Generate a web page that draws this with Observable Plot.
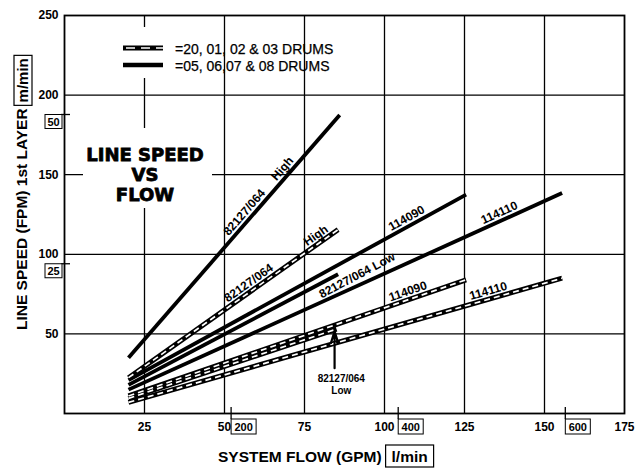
<!DOCTYPE html>
<html>
<head>
<meta charset="utf-8">
<script src="https://cdn.jsdelivr.net/npm/d3@7"></script>
<script src="https://cdn.jsdelivr.net/npm/@observablehq/plot@0.6"></script>
<style>
  html, body { margin: 0; padding: 0; background: #fff; }
  #chart svg { display: block; }
</style>
</head>
<body>
<div id="chart"></div>
<script>
// ---------- DATA ----------
// one straight line per motor / drum group, flow in GPM, speed in FPM
const lineNames  = ["82127/064 High", "82127/064 High", "114090", "82127/064 Low", "114110", "114090", "82127/064 Low", "114110"];
const drumGroup  = ["05-08", "20-03", "05-08", "05-08", "05-08", "20-03", "20-03", "20-03"];
const flowStart  = [20, 20, 20, 20, 20, 20, 20, 20];
const speedStart = [35, 22.5, 21, 18, 15, 11, 9.5, 7];
const flowEnd    = [86, 85.5, 125.5, 85.5, 155.5, 125.5, 85, 155.5];
const speedEnd   = [187.5, 115.5, 137.5, 87.5, 138.5, 84, 53, 85];

// axis ticks
const xTicks = [25, 50, 75, 100, 125, 150, 175];          // GPM
const yTicks = [50, 100, 150, 200, 250];                   // FPM
const lpmTicks = [200, 400, 600];                          // l/min
const mpmTicks = [25, 50];                                 // m/min
const LPM_PER_GPM = 3.83;   // conversion as drawn on the chart
const FPM_PER_MPM = 3.75;   // conversion as drawn on the chart

// texts
const legendLabels = ["=20, 01, 02 & 03 DRUMS", "=05, 06,07 & 08 DRUMS"];
const titleLines = ["LINE SPEED", "VS", "FLOW"];
const xTitle = "SYSTEM FLOW (GPM)", xUnit = "l/min";
const yTitle = "LINE SPEED (FPM) 1st LAYER", yUnit = "m/min";

// labels written along the lines: which line, where (GPM), text
const labelSeries = [0, 0, 1, 1, 3, 2, 4, 5, 7];
const labelFlow   = [58.1, 70, 59, 80, 90, 108.1, 136.9, 108.1, 133.1];
const labelText   = ["82127/064", "High", "82127/064", "High", "82127/064 Low", "114090", "114110", "114090", "114110"];
const labelSide   = [8, 8, 8, 8, -10, 8, 8, 8, 8];

// arrow annotation pointing at the end of the dashed 82127/064 Low line
const arrowSeries = 6;
const arrowFlow = 84.4;
const arrowFromSpeed = 28.5;
const arrowText = ["82127/064", "Low"];
const arrowTextFlow = 86.5;
const arrowTextSpeed = [21.8, 14.5];

// ---------- LAYOUT ----------
const W = 643, H = 468;
const M = {top: 15, right: 19, bottom: 55, left: 64};
const X_DOMAIN = [0, 175], Y_DOMAIN = [0, 250];
const kx = (W - M.left - M.right) / (X_DOMAIN[1] - X_DOMAIN[0]);
const ky = (H - M.top - M.bottom) / (Y_DOMAIN[1] - Y_DOMAIN[0]);
const FONT = "'Liberation Sans', Arial, Helvetica, sans-serif";

const rows = [];
lineNames.forEach((n, i) => {
  rows.push({id: i, name: n, drum: drumGroup[i], flow: flowStart[i], speed: speedStart[i]});
  rows.push({id: i, name: n, drum: drumGroup[i], flow: flowEnd[i], speed: speedEnd[i]});
});
const solidRows = rows.filter(r => r.drum === "05-08");
const dashRows = rows.filter(r => r.drum === "20-03");

const slopeOf = i => (speedEnd[i] - speedStart[i]) / (flowEnd[i] - flowStart[i]);
const speedAt = (i, f) => speedStart[i] + (f - flowStart[i]) * slopeOf(i);

const labels = labelSeries.map((s, j) => {
  const a = Math.atan(slopeOf(s) * ky / kx);
  const d = labelSide[j], f = labelFlow[j];
  return {
    text: labelText[j],
    flow: f - d * Math.sin(a) / kx,
    speed: speedAt(s, f) + d * Math.cos(a) / ky,
    rotate: -a * 180 / Math.PI
  };
});

const arrowData = [{x: arrowFlow, y1: arrowFromSpeed, y2: speedAt(arrowSeries, arrowFlow) - 1}];
const arrowLabels = arrowText.map((t, i) => ({text: t, flow: arrowTextFlow, speed: arrowTextSpeed[i]}));

const chart = Plot.plot({
  width: W, height: H,
  marginTop: M.top, marginRight: M.right, marginBottom: M.bottom, marginLeft: M.left,
  x: {domain: X_DOMAIN},
  y: {domain: Y_DOMAIN},
  style: {fontFamily: FONT, fontSize: "12px", color: "#000", background: "#fff"},
  marks: [
    Plot.gridX(xTicks.filter(t => t < X_DOMAIN[1]), {stroke: "#000", strokeOpacity: 1, strokeWidth: 1.3}),
    Plot.gridY(yTicks.filter(t => t < Y_DOMAIN[1]), {stroke: "#000", strokeOpacity: 1, strokeWidth: 1.3}),
    Plot.frame({stroke: "#000", strokeWidth: 1.8}),
    Plot.axisX(xTicks, {tickSize: 0, tickPadding: 9, fontWeight: "bold", fontSize: 12, label: null}),
    Plot.axisY(yTicks, {tickSize: 0, tickPadding: 6, fontWeight: "bold", fontSize: 12, label: null}),
    Plot.line(solidRows, {x: "flow", y: "speed", z: "id", stroke: "#000", strokeWidth: 3.8, strokeLinecap: "butt"}),
    Plot.line(dashRows, {x: "flow", y: "speed", z: "id", stroke: "#000", strokeWidth: 5, strokeLinecap: "butt"}),
    Plot.line(dashRows, {x: "flow", y: "speed", z: "id", stroke: "#fff", strokeWidth: 1.7, strokeDasharray: "6,4", strokeLinecap: "butt"}),
    Plot.text(labels, {x: "flow", y: "speed", text: "text", rotate: "rotate", fontSize: 12, fontWeight: "bold", fill: "#000"}),
    Plot.arrow(arrowData, {x1: "x", x2: "x", y1: "y1", y2: "y2", stroke: "#000", strokeWidth: 2.2, headLength: 10, headAngle: 35}),
    Plot.text(arrowLabels, {x: "flow", y: "speed", text: "text", fontSize: 10, fontWeight: "bold", fill: "#000"})
  ]
});

document.getElementById("chart").appendChild(chart);

// ---------- decorations: legend, title, unit boxes, axis titles ----------
const svg = d3.select(chart);
const xs = chart.scale("x"), ys = chart.scale("y");
const bottomPx = H - M.bottom, leftPx = M.left;

// white panels behind legend samples and title (they interrupt the grid)
svg.append("rect").attr("x", 113).attr("y", 27).attr("width", 57).attr("height", 51).attr("fill", "#fff");
svg.append("rect").attr("x", 83).attr("y", 128).attr("width", 129).attr("height", 80).attr("fill", "#fff");

// legend
const lg = svg.append("g");
lg.append("line").attr("x1", 123).attr("x2", 163).attr("y1", 48).attr("y2", 48)
  .attr("stroke", "#000").attr("stroke-width", 5);
lg.append("line").attr("x1", 126).attr("x2", 163).attr("y1", 48).attr("y2", 48)
  .attr("stroke", "#fff").attr("stroke-width", 1.7).attr("stroke-dasharray", "9,6");
lg.append("line").attr("x1", 123).attr("x2", 163).attr("y1", 65).attr("y2", 65)
  .attr("stroke", "#000").attr("stroke-width", 4.5);
legendLabels.forEach((t, i) => {
  lg.append("text").attr("x", 175).attr("y", 54 + i * 17).attr("text-anchor", "start")
    .attr("font-family", FONT).attr("font-size", 14).attr("fill", "#000")
    .attr("stroke", "#000").attr("stroke-width", 0.25).text(t);
});

// title
titleLines.forEach((t, i) => {
  svg.append("text").attr("x", 145).attr("y", 161 + i * 20).attr("text-anchor", "middle")
    .attr("font-family", "'DejaVu Sans', Arial, sans-serif").attr("font-weight", "bold")
    .attr("font-size", 18).attr("fill", "#000").attr("stroke", "#000").attr("stroke-width", 0.8)
    .text(t);
});

// secondary x ticks (l/min) with boxed labels
lpmTicks.forEach(v => {
  const px = xs.apply(v / LPM_PER_GPM);
  svg.append("line").attr("x1", px).attr("x2", px).attr("y1", bottomPx - 6).attr("y2", bottomPx + 6)
    .attr("stroke", "#000").attr("stroke-width", 1.3);
  svg.append("rect").attr("x", px).attr("y", bottomPx + 6).attr("width", 25).attr("height", 15)
    .attr("fill", "#fff").attr("stroke", "#000").attr("stroke-width", 1);
  svg.append("text").attr("x", px + 12.5).attr("y", bottomPx + 17.5).attr("text-anchor", "middle")
    .attr("font-family", FONT).attr("font-weight", "bold").attr("font-size", 11).attr("fill", "#000").text(v);
});

// secondary y ticks (m/min) with boxed labels
mpmTicks.forEach(v => {
  const py = ys.apply(v * FPM_PER_MPM);
  svg.append("line").attr("x1", leftPx - 3).attr("x2", leftPx + 6).attr("y1", py).attr("y2", py)
    .attr("stroke", "#000").attr("stroke-width", 1.3);
  svg.append("rect").attr("x", leftPx - 19).attr("y", py).attr("width", 17).attr("height", 14)
    .attr("fill", "#fff").attr("stroke", "#000").attr("stroke-width", 1);
  svg.append("text").attr("x", leftPx - 10.5).attr("y", py + 11).attr("text-anchor", "middle")
    .attr("font-family", FONT).attr("font-weight", "bold").attr("font-size", 11).attr("fill", "#000").text(v);
});

// x axis title with boxed unit
const xt = svg.append("text").attr("x", 218).attr("y", 462).attr("text-anchor", "start").attr("font-family", FONT)
  .attr("font-weight", "bold").attr("font-size", 15.5).attr("fill", "#000").text(xTitle);
const xLen = xt.node().getComputedTextLength();
const xbx = 218 + xLen + 4;
svg.append("rect").attr("x", xbx).attr("y", 445).attr("width", 48).attr("height", 22)
  .attr("fill", "none").attr("stroke", "#000").attr("stroke-width", 1.2);
svg.append("text").attr("x", xbx + 24).attr("y", 462).attr("text-anchor", "middle").attr("font-family", FONT)
  .attr("font-weight", "bold").attr("font-size", 15.5).attr("fill", "#000").text(xUnit);

// y axis title with boxed unit
const yt = svg.append("text").attr("transform", "translate(27,330) rotate(-90)").attr("text-anchor", "start")
  .attr("font-family", FONT).attr("font-weight", "bold").attr("font-size", 15.5).attr("fill", "#000").text(yTitle);
const yLen = yt.node().getComputedTextLength();
const ybTop = 330 - yLen - 3 - 50;
svg.append("rect").attr("x", 14).attr("y", ybTop).attr("width", 18).attr("height", 50)
  .attr("fill", "none").attr("stroke", "#000").attr("stroke-width", 1.2);
svg.append("text").attr("transform", `translate(28,${ybTop + 25}) rotate(-90)`).attr("text-anchor", "middle")
  .attr("font-family", FONT).attr("font-weight", "bold").attr("font-size", 15).attr("fill", "#000").text(yUnit);
</script>
</body>
</html>
